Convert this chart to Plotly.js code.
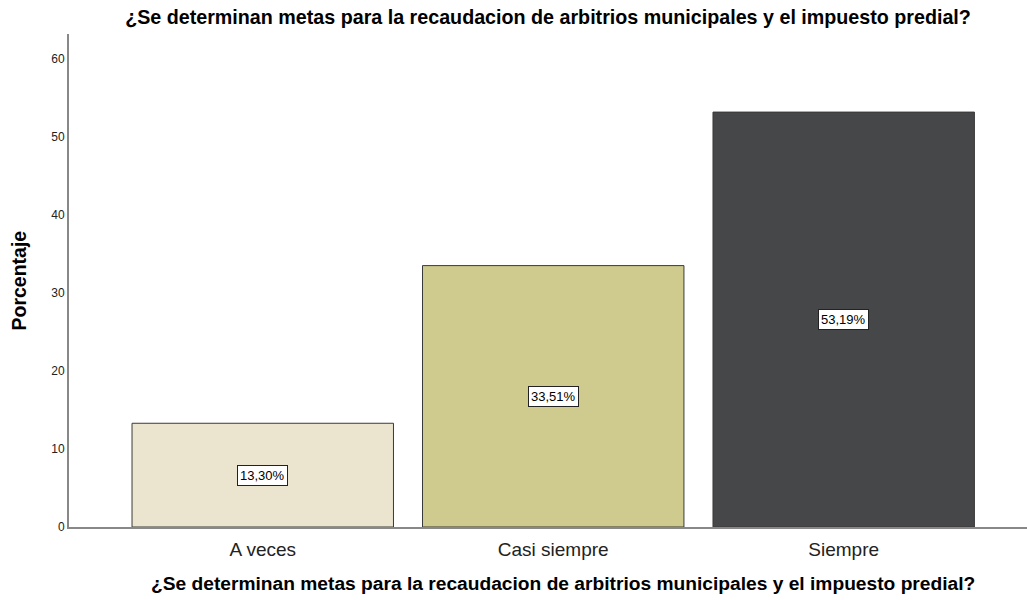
<!DOCTYPE html>
<html><head><meta charset="utf-8">
<script src="https://cdn.plot.ly/plotly-3.0.1.min.js"></script>
<style>body{margin:0;background:#fff}#c{width:1027px;height:600px}</style>
</head><body><div id="c"></div>
<script>
const categories = ["A veces", "Casi siempre", "Siempre"];
const values = [13.30, 33.51, 53.19];
const labels = ["13,30%", "33,51%", "53,19%"];
const colors = ["#ebe5cf", "#cfca8e", "#464748"];
const titleText = "¿Se determinan metas para la recaudacion de arbitrios municipales y el impuesto predial?";

const trace = {
  type: "bar", x: categories, y: values, width: 0.9,
  marker: {color: colors, line: {color: "#3a3a3a", width: 1}},
  hoverinfo: "none"
};
const annotations = categories.map((c, i) => ({
  x: c, y: values[i] / 2, xref: "x", yref: "y", text: labels[i], showarrow: false,
  bgcolor: "#ffffff", bordercolor: "#222", borderwidth: 1, borderpad: 2,
  font: {family: "Liberation Sans, Arial", size: 13, color: "#000"}
}));
annotations.push({
  xref: "paper", yref: "paper", x: 0.516, y: -0.1156, xanchor: "center", yanchor: "middle",
  text: "<b>" + titleText + "</b>", showarrow: false,
  font: {family: "Liberation Sans, Arial", size: 19.2, color: "#000"}
});
annotations.push({
  xref: "paper", yref: "paper", x: -0.0532, y: 0.5, xanchor: "center", yanchor: "middle",
  text: "<b>Porcentaje</b>", textangle: -90, showarrow: false,
  font: {family: "Liberation Sans, Arial", size: 19.5, color: "#000"}
});
const layout = {
  width: 1027, height: 600,
  margin: {l: 69, r: 0, t: 34, b: 73},
  paper_bgcolor: "#fff", plot_bgcolor: "#fff",
  font: {family: "Liberation Sans, Arial", color: "#000"},
  title: {text: "<b>" + titleText + "</b>", xref: "paper", x: 0.5, xanchor: "center", y: 0.971, yanchor: "middle",
    font: {size: 19.7, family: "Liberation Sans, Arial", color: "#000"}},
  xaxis: {range: [-0.667, 2.631], showline: true, linecolor: "#888", linewidth: 2, ticks: "",
    tickfont: {size: 19, color: "#222"}, ticklabelstandoff: 4, showgrid: false, zeroline: false},
  yaxis: {range: [0, 63.2], showline: true, linecolor: "#888", linewidth: 2, ticks: "", tickvals: [0,10,20,30,40,50,60],
    tickfont: {size: 12, color: "#222"}, showgrid: false, zeroline: false},
  annotations: annotations, showlegend: false, bargap: 0.1
};
Plotly.newPlot("c", [trace], layout, {displayModeBar: false, staticPlot: true});
</script></body></html>
